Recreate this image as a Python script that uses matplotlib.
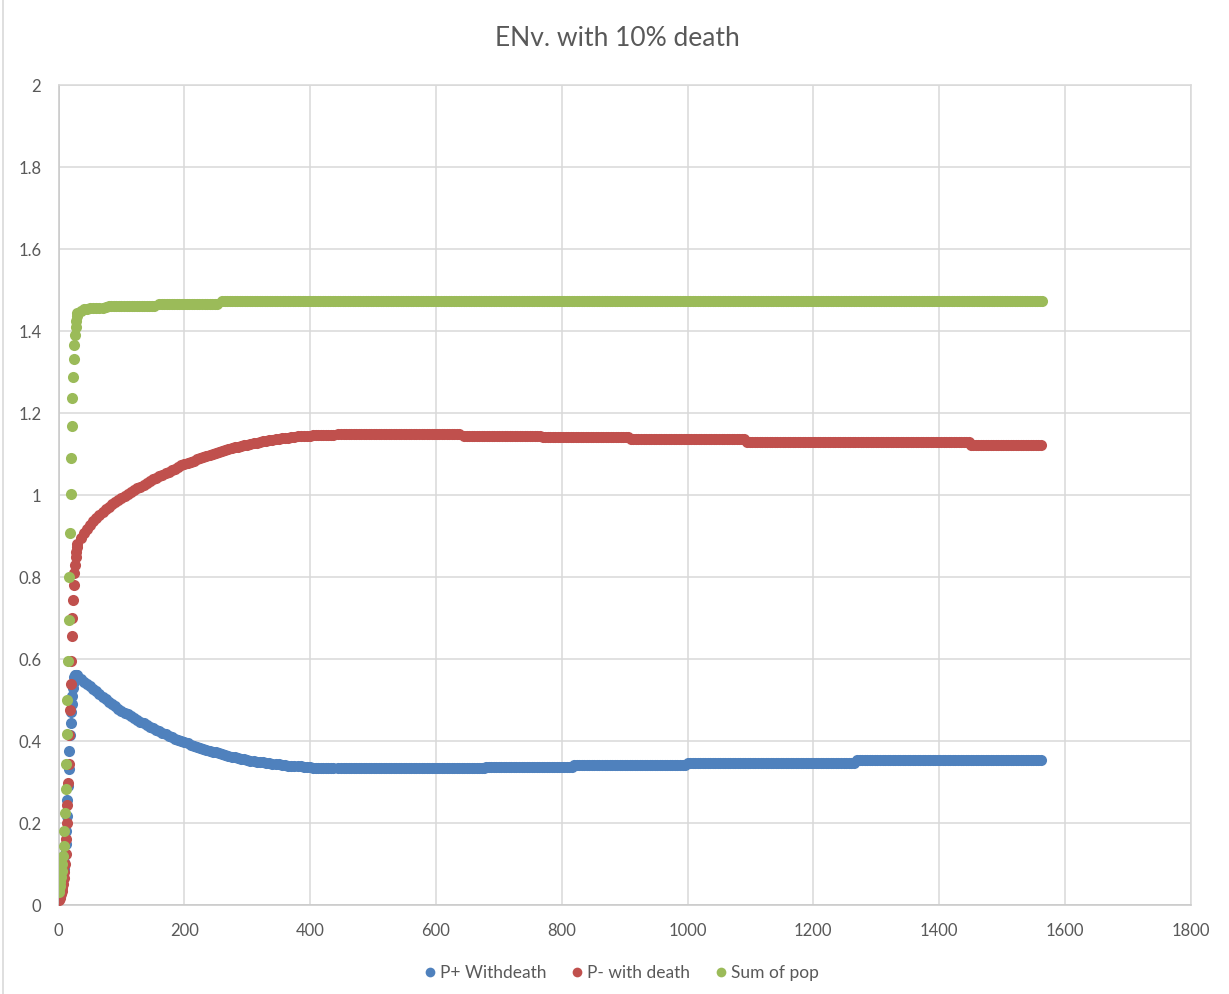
import numpy as np
import matplotlib
matplotlib.use("Agg")
import matplotlib.pyplot as plt
from matplotlib.lines import Line2D
from matplotlib.ticker import FuncFormatter

plt.rcParams['font.family'] = ['Lato', 'DejaVu Sans']

# ---- data -------------------------------------------------------------
# early growth, one record per step
rise_steps = list(range(31))
p_plus_rise = [0.020, 0.024, 0.029, 0.035, 0.042, 0.050, 0.060, 0.072, 0.087, 0.104,
               0.125, 0.150, 0.180, 0.217, 0.255, 0.290, 0.331, 0.375, 0.415, 0.443,
               0.470, 0.490, 0.510, 0.530, 0.545, 0.555, 0.560, 0.561, 0.561, 0.560,
               0.558]
p_minus_rise = [0.011, 0.014, 0.018, 0.022, 0.027, 0.034, 0.042, 0.052, 0.065, 0.080,
                0.100, 0.125, 0.160, 0.200, 0.243, 0.297, 0.345, 0.415, 0.475, 0.540,
                0.595, 0.655, 0.700, 0.745, 0.780, 0.810, 0.830, 0.848, 0.862, 0.872,
                0.880]
sum_rise = [0.031, 0.038, 0.047, 0.057, 0.069, 0.084, 0.100, 0.120, 0.144, 0.180,
            0.224, 0.282, 0.343, 0.416, 0.501, 0.596, 0.696, 0.800, 0.908, 1.002,
            1.090, 1.168, 1.236, 1.287, 1.331, 1.367, 1.390, 1.410, 1.425, 1.437,
            1.445]

# approach to equilibrium, steps 35..400
curve_steps = list(range(35, 401, 5))
p_plus_curve = [0.551, 0.545, 0.539, 0.533, 0.527, 0.521, 0.514, 0.508, 0.502, 0.496,
                0.490, 0.485, 0.479, 0.474, 0.469, 0.465, 0.460, 0.456, 0.451, 0.447,
                0.443, 0.439, 0.435, 0.431, 0.427, 0.424, 0.420, 0.417, 0.413, 0.410,
                0.406, 0.403, 0.400, 0.397, 0.394, 0.391, 0.388, 0.386, 0.383, 0.381,
                0.378, 0.376, 0.374, 0.372, 0.370, 0.368, 0.366, 0.364, 0.362, 0.360,
                0.358, 0.357, 0.355, 0.354, 0.352, 0.351, 0.350, 0.349, 0.348, 0.347,
                0.346, 0.345, 0.344, 0.343, 0.342, 0.341, 0.340, 0.339, 0.339, 0.338,
                0.338, 0.337, 0.337, 0.336]
p_minus_curve = [0.895, 0.907, 0.918, 0.928, 0.936, 0.944, 0.951, 0.958, 0.965, 0.971,
                 0.977, 0.982, 0.987, 0.992, 0.997, 1.002, 1.007, 1.011, 1.016, 1.020,
                 1.025, 1.029, 1.034, 1.038, 1.042, 1.046, 1.050, 1.053, 1.057, 1.060,
                 1.064, 1.068, 1.072, 1.075, 1.078, 1.081, 1.084, 1.087, 1.090, 1.093,
                 1.096, 1.098, 1.101, 1.103, 1.105, 1.107, 1.110, 1.112, 1.114, 1.116,
                 1.118, 1.120, 1.122, 1.123, 1.125, 1.126, 1.128, 1.129, 1.131, 1.132,
                 1.134, 1.135, 1.136, 1.137, 1.138, 1.139, 1.140, 1.141, 1.142, 1.143,
                 1.143, 1.144, 1.144, 1.145]
sum_curve_steps = list(range(35, 80, 5))
sum_curve = [1.450, 1.453, 1.454, 1.455, 1.455, 1.456, 1.456, 1.457, 1.458]

# long flat stretches: (first step, last step, value)
p_plus_flat = [(405, 440, 0.335), (445, 678, 0.333), (680, 817, 0.337),
               (820, 996, 0.341), (1000, 1267, 0.346), (1270, 1565, 0.353)]
p_minus_flat = [(405, 440, 1.147), (445, 640, 1.149), (645, 766, 1.145),
                (770, 906, 1.141), (910, 1093, 1.136), (1095, 1447, 1.129),
                (1450, 1565, 1.123)]
sum_flat = [(80, 155, 1.460), (160, 255, 1.467), (260, 1565, 1.473)]

series_names = ["P+ Withdeath", "P- with death", "Sum of pop"]
series_colors = ["#4F81BD", "#C0504D", "#9BBB59"]

x_ticks = [0, 200, 400, 600, 800, 1000, 1200, 1400, 1600, 1800]
y_ticks = [0, 0.2, 0.4, 0.6, 0.8, 1.0, 1.2, 1.4, 1.6, 1.8, 2.0]


def assemble(rise, c_steps, curve, flat):
    xs = list(rise_steps) + list(c_steps)
    ys = list(rise) + list(curve)
    for start, end, value in flat:
        run = np.arange(start, end + 1, 4)
        xs.extend(run.tolist())
        ys.extend([value] * len(run))
    return np.array(xs), np.array(ys)


all_series = [
    assemble(p_plus_rise, curve_steps, p_plus_curve, p_plus_flat),
    assemble(p_minus_rise, curve_steps, p_minus_curve, p_minus_flat),
    assemble(sum_rise, sum_curve_steps, sum_curve, sum_flat),
]

# ---- figure -----------------------------------------------------------
W, H = 1229, 994
fig = plt.figure(figsize=(W / 100, H / 100), dpi=100)
ax = fig.add_axes([58.6 / W, 1 - 905 / H, (1190.7 - 58.6) / W, (905 - 85) / H])

grid_color = "#D9D9D9"
text_color = "#595959"

for (xs, ys), color in zip(all_series, series_colors):
    ax.scatter(xs, ys, s=64, color=color, linewidths=0, zorder=3)

ax.set_xlim(0, 1800)
ax.set_ylim(0, 2)
ax.set_xticks(x_ticks)
ax.set_yticks(y_ticks)
ax.xaxis.set_major_formatter(FuncFormatter(lambda v, p: f"{v:g}"))
ax.yaxis.set_major_formatter(FuncFormatter(lambda v, p: f"{v:g}"))
ax.grid(True, color=grid_color, linewidth=1.1, zorder=0)
ax.set_axisbelow(True)
for side in ax.spines.values():
    side.set_color(grid_color)
    side.set_linewidth(1.1)
ax.spines["left"].set_color("#C8C8C8")
ax.spines["bottom"].set_color("#C8C8C8")
ax.tick_params(axis="both", length=0, labelsize=12, labelcolor=text_color)
ax.tick_params(axis="y", pad=12.5)
ax.tick_params(axis="x", pad=13)

fig.text(617 / W, 1 - 38 / H, "ENv. with 10% death", ha="center", va="center",
         fontsize=19, color=text_color)

handles = [Line2D([], [], marker="o", linestyle="none", markersize=7,
                  markerfacecolor=c, markeredgewidth=0) for c in series_colors]
fig.legend(handles, series_names, loc="center", bbox_to_anchor=(620 / W, 1 - 973 / H),
           bbox_transform=fig.transFigure, ncol=3, frameon=False, fontsize=12.5,
           handletextpad=0.1, columnspacing=1.25, handlelength=1.0,
           labelcolor=text_color)

# chart frame edge on the left
fig.add_artist(Line2D([3.3 / W, 3.3 / W], [0, 1], transform=fig.transFigure,
                      color=grid_color, linewidth=1.2))

fig.savefig("out.png", dpi=100)
